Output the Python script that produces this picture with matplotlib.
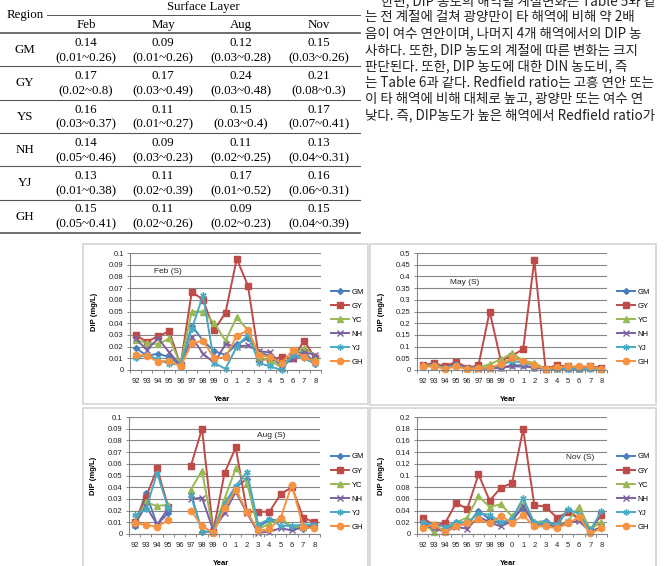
import numpy as np
import matplotlib.pyplot as plt
from matplotlib.lines import Line2D
from matplotlib.patches import Rectangle
from matplotlib.ticker import FuncFormatter

W, H = 664, 566  # page size in px

# ---- table 5 (surface layer DIP) ----
regions = ['GM', 'GY', 'YS', 'NH', 'YJ', 'GH']
months = ['Feb', 'May', 'Aug', 'Nov']
tab_mean = [[0.14, 0.09, 0.12, 0.15],
            [0.17, 0.17, 0.24, 0.21],
            [0.16, 0.11, 0.15, 0.17],
            [0.14, 0.09, 0.11, 0.13],
            [0.13, 0.11, 0.17, 0.16],
            [0.15, 0.11, 0.09, 0.15]]
tab_min = [[0.01, 0.01, 0.03, 0.03],
           [0.02, 0.03, 0.03, 0.08],
           [0.03, 0.01, 0.03, 0.07],
           [0.05, 0.03, 0.02, 0.04],
           [0.01, 0.02, 0.01, 0.06],
           [0.05, 0.02, 0.02, 0.04]]
tab_max = [[0.26, 0.26, 0.28, 0.26],
           [0.8, 0.49, 0.48, 0.3],
           [0.37, 0.27, 0.4, 0.41],
           [0.46, 0.23, 0.25, 0.31],
           [0.38, 0.39, 0.52, 0.31],
           [0.41, 0.26, 0.23, 0.39]]

body = ['한편, DIP 농도의 해역별 계절변화는 Table 5와 같',
        '는 전 계절에 걸쳐 광양만이 타 해역에 비해 약 2배',
        '음이 여수 연안이며, 나머지 4개 해역에서의 DIP 농',
        '사하다. 또한, DIP 농도의 계절에 따른 변화는 크지',
        '판단된다. 또한, DIP 농도에 대한 DIN 농도비, 즉',
        '는 Table 6과 같다. Redfield ratio는 고흥 연안 또는',
        '이 타 해역에 비해 대체로 높고, 광양만 또는 여수 연',
        '낮다. 즉, DIP농도가 높은 해역에서 Redfield ratio가']

# ---- DIP (mg/L) by year, order GM GY YC NH YJ GH ----
years = ['92', '93', '94', '95', '96', '97', '98', '99', '0', '1', '2', '3', '4', '5', '6', '7', '8']
stations = ['GM', 'GY', 'YC', 'NH', 'YJ', 'GH']
nan = np.nan

feb = [[0.019, 0.012, 0.014, 0.011, 0.004, 0.038, 0.025, 0.016, 0.013, 0.022, 0.027, 0.015, 0.012, 0.003, 0.013, 0.016, 0.005],
       [0.030, 0.024, 0.029, 0.033, 0.004, 0.067, 0.060, 0.034, 0.049, 0.095, 0.072, 0.009, 0.009, 0.011, 0.010, 0.025, 0.010],
       [0.026, 0.023, 0.022, 0.027, 0.005, 0.050, 0.050, 0.040, 0.025, 0.045, 0.034, 0.011, 0.008, 0.002, 0.013, 0.019, 0.012],
       [0.027, 0.017, 0.027, 0.015, 0.004, 0.028, 0.014, 0.006, 0.022, 0.020, 0.021, 0.016, 0.015, 0.004, 0.009, 0.015, 0.013],
       [0.010, 0.013, 0.009, 0.005, 0.005, 0.035, 0.064, 0.006, 0.001, 0.020, 0.030, 0.006, 0.003, 0.000, 0.013, 0.010, 0.005],
       [0.013, 0.012, 0.007, 0.008, 0.003, 0.023, 0.025, 0.010, 0.011, 0.029, 0.034, 0.013, 0.011, 0.006, 0.017, 0.011, 0.007]]

may = [[0.02, 0.02, 0.01, 0.03, 0.01, 0.01, 0.01, 0.01, 0.02, 0.02, 0.01, 0.005, 0.01, 0.01, 0.005, 0.01, 0.005],
       [0.02, 0.03, 0.015, 0.035, 0.01, 0.02, 0.25, 0.04, 0.06, 0.09, 0.47, 0.005, 0.02, 0.015, 0.01, 0.015, 0.01],
       [0.02, 0.02, 0.01, 0.02, 0.01, 0.01, 0.025, 0.045, 0.072, 0.04, 0.03, 0.005, 0.01, 0.01, 0.01, 0.01, 0.005],
       [0.02, 0.015, 0.01, 0.025, 0.01, 0.005, 0.005, 0.01, 0.015, 0.015, 0.01, 0.005, 0.005, 0.005, 0.005, 0.01, 0.005],
       [0.015, 0.02, 0.01, 0.02, 0.005, 0.01, 0.01, 0.02, 0.04, 0.03, 0.02, 0.003, 0.005, 0.005, 0.005, 0.005, 0.005],
       [0.015, 0.015, 0.005, 0.015, 0.003, 0.008, 0.01, 0.025, 0.05, 0.04, 0.02, 0.005, 0.012, 0.015, 0.015, 0.015, 0.003]]

aug = [[0.007, 0.035, 0.008, 0.018, nan, 0.035, 0.002, 0.002, 0.025, 0.040, 0.047, 0.006, 0.012, 0.012, 0.006, 0.004, 0.007],
       [0.010, 0.031, 0.056, 0.023, nan, 0.058, 0.090, 0.002, 0.052, 0.074, 0.019, 0.019, 0.019, 0.034, 0.040, 0.014, 0.010],
       [0.010, 0.027, 0.024, 0.025, nan, 0.038, 0.054, 0.002, 0.030, 0.056, 0.044, 0.004, 0.009, 0.014, 0.006, 0.006, 0.007],
       [0.008, 0.024, 0.008, 0.022, nan, 0.030, 0.031, 0.003, 0.018, 0.036, 0.018, 0.001, 0.002, 0.005, 0.003, 0.006, 0.007],
       [0.016, 0.021, 0.052, 0.022, nan, 0.033, 0.002, 0.002, 0.026, 0.041, 0.053, 0.008, 0.013, 0.007, 0.007, 0.008, 0.008],
       [0.009, 0.008, 0.006, 0.012, nan, 0.020, 0.007, 0.001, 0.022, 0.038, 0.019, 0.003, 0.004, 0.014, 0.042, 0.006, 0.005]]

nov = [[0.020, 0.012, 0.006, 0.018, 0.015, 0.040, 0.025, 0.018, 0.025, 0.045, 0.020, 0.022, 0.015, 0.040, 0.025, 0.006, 0.035],
       [0.028, 0.015, 0.018, 0.053, 0.043, 0.102, 0.057, 0.079, 0.087, 0.179, 0.049, 0.047, 0.028, 0.037, 0.028, 0.006, 0.033],
       [0.018, 0.004, 0.010, 0.020, 0.028, 0.065, 0.046, 0.051, 0.030, 0.052, 0.020, 0.020, 0.014, 0.022, 0.047, 0.008, 0.021],
       [0.016, 0.010, 0.004, 0.012, 0.009, 0.030, 0.020, 0.013, 0.022, 0.048, 0.016, 0.016, 0.012, 0.020, 0.022, 0.004, 0.012],
       [0.020, 0.016, 0.012, 0.020, 0.020, 0.035, 0.033, 0.020, 0.025, 0.062, 0.018, 0.018, 0.016, 0.042, 0.035, 0.006, 0.039],
       [0.011, 0.016, 0.004, 0.014, 0.018, 0.025, 0.018, 0.031, 0.019, 0.032, 0.013, 0.013, 0.010, 0.018, 0.029, 0.001, 0.010]]

colors = ['#4A7EBB', '#BE4B48', '#98B954', '#7D60A0', '#46AAC5', '#F69240']
markers = ['D', 's', '^', 'x', (6, 2, 0), 'o']
msizes = [3, 4, 4, 4, 4.5, 4.5]


def fx(x):
    return x / W


def fy(y):
    return 1 - y / H


fig = plt.figure(figsize=(6.64, 5.66), dpi=100)
serif = 'Liberation Serif'
sans = 'Liberation Sans'

# table
line_c = '#555555'
def hline(x0, x1, y, lw=0.8):
    fig.add_artist(Line2D([fx(x0), fx(x1)], [fy(y), fy(y)], transform=fig.transFigure, color=line_c, lw=lw))

col_x = [86, 163, 241, 319]
fig.text(fx(25), fy(15), 'Region', family=serif, fontsize=9.3, ha='center', va='center')
fig.text(fx(203), fy(7), 'Surface Layer', family=serif, fontsize=9.3, ha='center', va='center')
hline(47, 360, 15, 0.7)
for j, m in enumerate(months):
    fig.text(fx(col_x[j]), fy(25), m, family=serif, fontsize=9.3, ha='center', va='center')
hline(0, 360, 33, 1.2)
for i, r in enumerate(regions):
    top = 33 + 33.3 * i
    fig.text(fx(25), fy(top + 17), r, family=serif, fontsize=9.3, ha='center', va='center')
    for j in range(4):
        fig.text(fx(col_x[j]), fy(top + 10), '%g' % tab_mean[i][j], family=serif, fontsize=9.3, ha='center', va='center')
        fig.text(fx(col_x[j]), fy(top + 25), '(%g~%g)' % (tab_min[i][j], tab_max[i][j]), family=serif, fontsize=9.3, ha='center', va='center')
    hline(0, 360, top + 33.3, 1.2 if i == 5 else 0.8)

# body text (first line is cut by the page top, as in the scan)
for k, s in enumerate(body):
    x = 381 if k == 0 else 365
    fig.text(fx(x), fy(1 + 16.3 * k), s, family=['Noto Sans CJK KR', 'DejaVu Sans'], fontsize=9.7,
             ha='left', va='center', color='#222222')

# charts
panels = [
    ('Feb (S)', feb, (130, 253, 321, 370), (83, 244, 368, 404), 0.1, 0.01, (0.126, 0.846), (331, 327)),
    ('May (S)', may, (417, 253, 607, 370), (370, 244, 656, 405), 0.5, 0.05, (0.174, 0.752), (617, 327)),
    ('Aug (S)', aug, (129, 417, 320, 534), (83, 408, 368, 572), 0.1, 0.01, (0.67, 0.846), (331, 492)),
    ('Nov (S)', nov, (417, 417, 607, 534), (370, 408, 656, 572), 0.2, 0.02, (0.784, 0.65), (617, 492)),
]
gray = '#868686'
xs = np.arange(len(years))
for title, data, (l, t, r, b), (bx0, by0, bx1, by1), ymax, ystep, tpos, lpos in panels:
    fig.add_artist(Rectangle((fx(bx0), fy(by1)), (bx1 - bx0) / W, (by1 - by0) / H, transform=fig.transFigure,
                             fill=False, ec='#d4d4d4', lw=1.2))
    ax = fig.add_axes([fx(l), fy(b), (r - l) / W, (b - t) / H])
    for k, st in enumerate(stations):
        ax.plot(xs, data[k], color=colors[k], marker=markers[k], ms=msizes[k], mew=1.0, lw=1.4,
                label=st, clip_on=False)
    ax.set_xlim(-0.5, len(years) - 0.5)
    ax.set_ylim(0, ymax)
    ax.set_yticks(np.round(np.arange(0, ymax + ystep / 2, ystep), 3))
    ax.yaxis.set_major_formatter(FuncFormatter(lambda v, p: '%g' % v))
    ax.set_xticks(xs)
    ax.set_xticklabels(years)
    ax.set_xticks(np.arange(-0.5, len(years)), minor=True)
    ax.tick_params(axis='x', which='major', length=0, pad=6, labelsize=5.5, labelcolor='#222222')
    ax.tick_params(axis='x', which='minor', length=2.5, color=gray, width=0.7)
    ax.tick_params(axis='y', length=2.5, color=gray, width=0.7, pad=2, labelsize=5.5, labelcolor='#222222')
    for lab in ax.get_xticklabels() + ax.get_yticklabels():
        lab.set_family(sans)
    ax.grid(axis='y', color=gray, lw=0.8)
    ax.set_axisbelow(True)
    for sp in ['top', 'right']:
        ax.spines[sp].set_visible(False)
    for sp in ['left', 'bottom']:
        ax.spines[sp].set_color(gray)
        ax.spines[sp].set_linewidth(0.8)
    ax.set_xlabel('Year', family=sans, fontsize=5.5, fontweight='bold')
    ax.xaxis.set_label_coords(0.48, -(26 / (b - t)))
    ax.set_ylabel('DIP (mg/L)', family=sans, fontsize=5.5, fontweight='bold')
    ax.yaxis.set_label_coords(-32 / (r - l), 0.5)
    ax.text(tpos[0], tpos[1], title, transform=ax.transAxes, family=sans, fontsize=6, va='center', color='#222222')
    ax.legend(loc='center left', bbox_to_anchor=(fx(lpos[0]), fy(lpos[1])), bbox_transform=fig.transFigure,
              frameon=False, prop={'family': sans, 'size': 5.5}, handlelength=2.4, handletextpad=0.3,
              labelspacing=0.88, borderpad=0, borderaxespad=0)

fig.savefig('out.png', dpi=100)
